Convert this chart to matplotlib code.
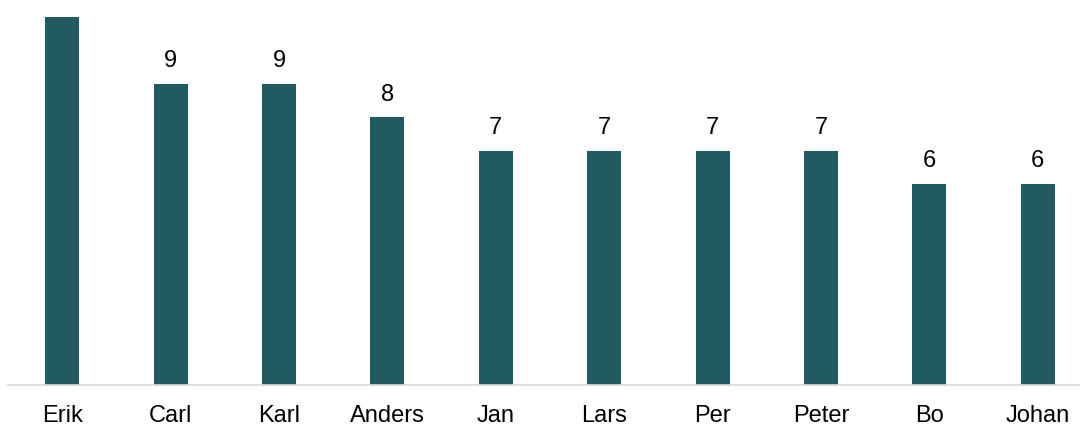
import matplotlib
matplotlib.use("Agg")
from matplotlib import pyplot as plt

names = ["Erik", "Carl", "Karl", "Anders", "Jan", "Lars", "Per", "Peter", "Bo", "Johan"]
counts = [11, 9, 9, 8, 7, 7, 7, 7, 6, 6]

plt.rcParams['font.family'] = ['Liberation Sans', 'DejaVu Sans']

fig = plt.figure(figsize=(10.8, 4.26), dpi=100)
# axes box placed so the bars line up with the reference
ax = fig.add_axes([8 / 1080, 1 - 385 / 426, 1084 / 1080, 368 / 426])

bars = ax.bar(range(len(names)), counts, width=0.315, color="#215A60")
# the tallest bar reaches the top edge, its label falls outside the picture
for rect, val in list(zip(bars, counts))[1:]:
    ax.annotate(str(val), (rect.get_x() + rect.get_width() / 2, val),
                xytext=(0, 8.5), textcoords="offset points",
                ha="center", va="bottom", fontsize=17, color="#000000")

ax.set_xlim(-0.5, len(names) - 0.5)
ax.set_ylim(0, 11)
ax.set_xticks(range(len(names)))
ax.set_xticklabels(names, fontsize=17, color="#000000")
ax.tick_params(axis="x", length=0, pad=14.5)
ax.set_yticks([])
for side in ["top", "right", "left"]:
    ax.spines[side].set_visible(False)
ax.spines["bottom"].set_color("#d9d9d9")
ax.spines["bottom"].set_linewidth(1.2)

fig.savefig("out.png", dpi=100)
